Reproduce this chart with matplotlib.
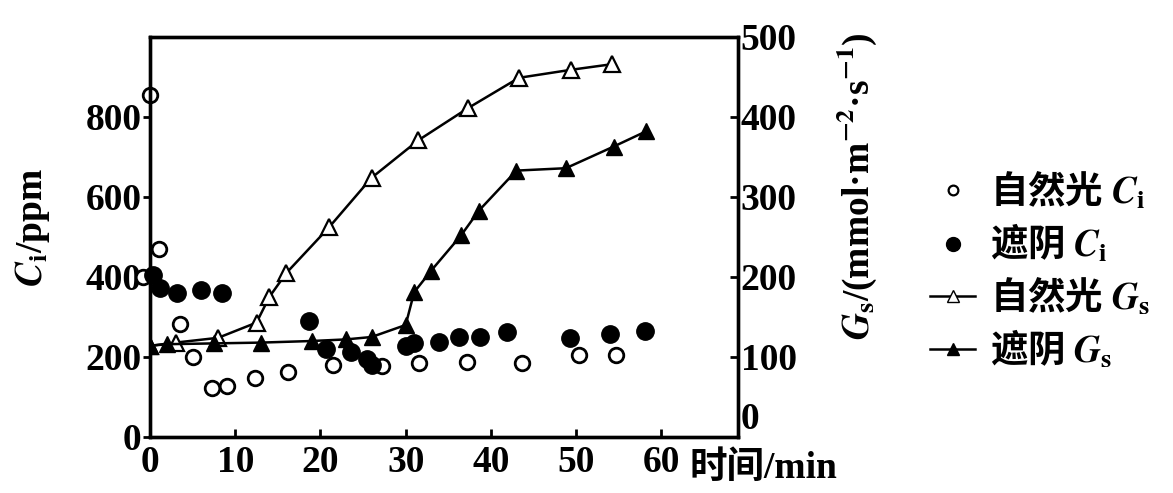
import matplotlib
matplotlib.use("Agg")
import matplotlib.pyplot as plt
from matplotlib.lines import Line2D

plt.rcParams["font.family"] = ["Liberation Serif", "Noto Sans CJK SC"]
plt.rcParams["font.weight"] = "bold"
plt.rcParams["mathtext.fontset"] = "stix"

# 自然光 Ci (open circles), ppm
nat_ci_t = [-0.8, 0, 1, 3.5, 5, 7.3, 9, 12.3, 16.2, 21.5, 27.2, 31.6, 37.2, 43.6, 50.3, 54.7]
nat_ci = [400, 856, 470, 283, 201, 122, 127, 147, 162, 179, 177, 185, 188, 186, 206, 204]

# 遮阴 Ci (filled circles), ppm
sh_ci_t = [0.4, 1.2, 3.2, 6.0, 8.5, 18.7, 20.7, 23.6, 25.5, 26.1, 30.0, 31.0, 33.9, 36.3, 38.7, 41.9, 49.3, 54.0, 58.1]
sh_ci = [406, 372, 360, 367, 359, 290, 221, 212, 194, 181, 227, 234, 237, 251, 250, 262, 248, 257, 266]

# 自然光 Gs (open triangles), mmol m-2 s-1
nat_gs_t = [0, 3, 8, 12.5, 14, 16, 21, 26, 31.5, 37.3, 43.3, 49.4, 54.2]
nat_gs = [114, 118, 124, 143, 175, 205, 262, 324, 371, 411, 449, 459, 466]

# 遮阴 Gs (filled triangles)
sh_gs_t = [0, 2, 7.5, 13, 19, 23, 26, 30, 31, 33, 36.5, 38.6, 43, 48.8, 54.4, 58.2]
sh_gs = [114, 116, 117, 118, 120, 122, 125, 140, 181, 208, 252, 283, 333, 336, 363, 382]

x_ticks = [0, 10, 20, 30, 40, 50, 60]
ci_ticks = [0, 200, 400, 600, 800]
gs_ticks = [0, 100, 200, 300, 400, 500]

fig = plt.figure(figsize=(11.73, 4.93), dpi=100)
ax = fig.add_axes([150 / 1173, 56 / 493, 588 / 1173, 400 / 493])
ax2 = ax.twinx()

ax.plot(nat_ci_t, nat_ci, "o", ls="none", mfc="white", mec="black", mew=2, ms=10.5, clip_on=False)
ax.plot(sh_ci_t, sh_ci, "o", ls="none", color="black", ms=12.5, clip_on=False)

ax2.plot(nat_gs_t, nat_gs, "-^", color="black", mfc="white", mec="black", mew=1.6, ms=11, lw=1.8)
ax2.plot(sh_gs_t, sh_gs, "-^", color="black", ms=11, lw=1.8)

ax.set_xlim(0, 69)
ax.set_ylim(0, 1000)
ax2.set_ylim(0, 500)

fs = 27
ax.set_xticks(x_ticks)
ax.set_xticklabels([str(v) for v in x_ticks], fontsize=fs)
ax.set_yticks(ci_ticks)
ax.set_yticklabels([str(v) for v in ci_ticks], fontsize=fs)
ax2.set_yticks(gs_ticks)
ax2.set_yticklabels([str(v) for v in gs_ticks], fontsize=fs)
ax2.get_yticklabels()[0].set_va("bottom")

ax.tick_params(axis="x", direction="in", length=6, width=2, pad=6)
ax.tick_params(axis="y", direction="out", length=5, width=2, pad=1)
ax2.tick_params(axis="y", direction="in", length=6, width=2, pad=2)
for a in (ax, ax2):
    for s in a.spines.values():
        s.set_linewidth(2.4)

fig.text(32 / 1173, 1 - 228 / 493, r"$C_\mathrm{i}$/ppm", rotation=90,
         fontsize=fs, ha="center", va="center")
fig.text(857 / 1173, 1 - 186 / 493, r"$G_\mathrm{s}$/(mmol·m$^{-2}$·s$^{-1}$)",
         rotation=90, fontsize=27, ha="center", va="center")
fig.text(690 / 1173, 1 - 468 / 493, "时间/min", fontsize=fs, ha="left", va="center")

handles = [
    Line2D([], [], marker="o", ls="none", mfc="white", mec="black", mew=1.6, ms=7),
    Line2D([], [], marker="o", ls="none", color="black", ms=10),
    Line2D([], [], marker="^", color="black", mfc="white", mec="black", lw=1.8, ms=9),
    Line2D([], [], marker="^", color="black", lw=1.8, ms=9),
]
labels = [r"自然光 $C_\mathrm{i}$", r"遮阴 $C_\mathrm{i}$",
          r"自然光 $G_\mathrm{s}$", r"遮阴 $G_\mathrm{s}$"]
fig.legend(handles, labels, loc="center left", bbox_to_anchor=(915 / 1173, 1 - 270 / 493),
           frameon=False, prop={"family": "Noto Sans CJK SC", "size": 27, "weight": "bold"},
           handlelength=1.2, handletextpad=0.4, labelspacing=0.3, borderaxespad=0)

fig.savefig("out.png", dpi=100)
